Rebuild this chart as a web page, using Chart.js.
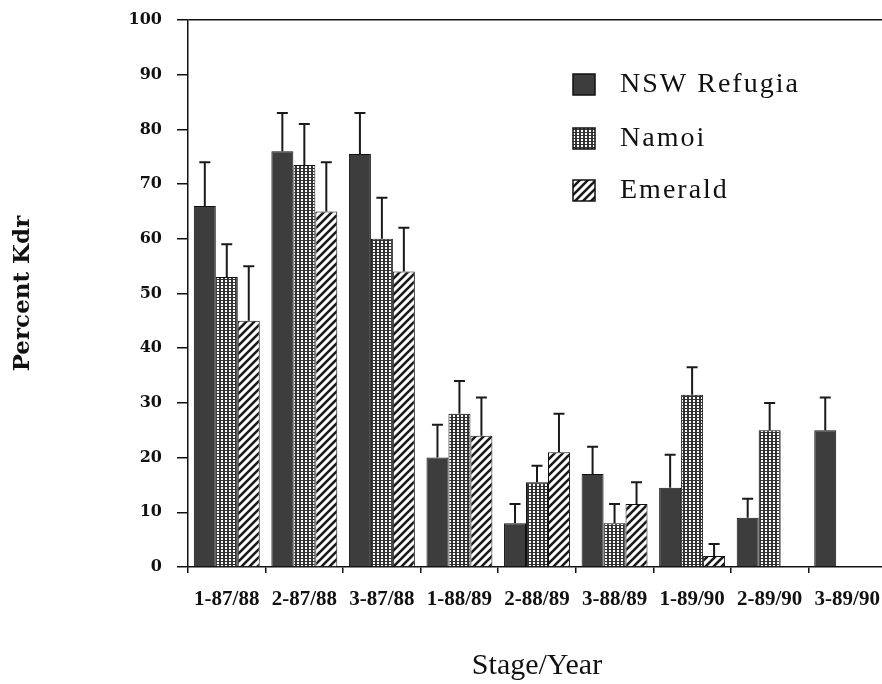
<!DOCTYPE html>
<html><head><meta charset="utf-8">
<script src="https://cdn.jsdelivr.net/npm/chart.js@4/dist/chart.umd.min.js"></script>
<style>
html,body{margin:0;padding:0;background:#fff;overflow:hidden;}
#wrap{width:882px;height:684px;overflow:hidden;position:relative;background:#fff;}
</style>
</head><body>
<div id="wrap"><canvas id="c" width="890" height="684" style="width:890px;height:684px"></canvas></div>
<script>
// ---- data ----
const categories = ['1-87/88','2-87/88','3-87/88','1-88/89','2-88/89','3-88/89','1-89/90','2-89/90','3-89/90'];
const seriesNames = ['NSW Refugia','Namoi','Emerald'];
const nswValues     = [66, 76, 75.5, 20, 8, 17, 14.5, 9, 25];
const nswErrors     = [8, 7, 7.5, 6, 3.5, 5, 6, 3.5, 6];
const namoiValues   = [53, 73.5, 60, 28, 15.5, 8, 31.5, 25, null];
const namoiErrors   = [6, 7.5, 7.5, 6, 3, 3.5, 5, 5, null];
const emeraldValues = [45, 65, 54, 24, 21, 11.5, 2, null, null];
const emeraldErrors = [10, 9, 8, 7, 7, 4, 2.2, null, null];
const yMin = 0, yMax = 100, yStep = 10;

// ---- fill patterns ----
const ctx = document.getElementById('c').getContext('2d');
const solidFill = '#3d3d3d';
const dotFill = ctx.createPattern((() => {
  const c = document.createElement('canvas'); c.width = 4; c.height = 3;
  const g = c.getContext('2d');
  g.fillStyle = '#333333'; g.fillRect(0, 0, 4, 3);
  g.fillStyle = '#ffffff'; g.fillRect(1, 1, 2, 2);
  return c;
})(), 'repeat');
const hatchFill = ctx.createPattern((() => {
  const c = document.createElement('canvas'); c.width = 8; c.height = 8;
  const g = c.getContext('2d');
  g.fillStyle = '#ffffff'; g.fillRect(0, 0, 8, 8);
  g.strokeStyle = '#1a1a1a'; g.lineWidth = 2.6;
  g.beginPath();
  g.moveTo(-2, 10); g.lineTo(10, -2);
  g.moveTo(-6, 6); g.lineTo(6, -6);
  g.moveTo(2, 14); g.lineTo(14, 2);
  g.stroke();
  return c;
})(), 'repeat');

const errorSets = [nswErrors, namoiErrors, emeraldErrors];

const errorBarPlugin = {
  id: 'errorBars',
  afterDatasetsDraw(chart) {
    const c = chart.ctx;
    const yScale = chart.scales.y;
    c.save();
    c.strokeStyle = '#1a1a1a';
    c.lineWidth = 2;
    chart.data.datasets.forEach((ds, i) => {
      const meta = chart.getDatasetMeta(i);
      meta.data.forEach((bar, j) => {
        const v = ds.data[j];
        const e = errorSets[i][j];
        if (v == null || e == null) return;
        const x = bar.x;
        const yTop = yScale.getPixelForValue(v + e);
        const yBase = yScale.getPixelForValue(v);
        c.beginPath();
        c.moveTo(x, yBase);
        c.lineTo(x, yTop);
        c.moveTo(x - 5.5, yTop);
        c.lineTo(x + 5.5, yTop);
        c.stroke();
      });
    });
    c.restore();
  }
};

const legendPlugin = {
  id: 'customLegend',
  afterDraw(chart) {
    const c = chart.ctx;
    const a = chart.chartArea;
    const boxX = a.left + 385, textX = a.left + 432;
    const rows = [a.top + 64, a.top + 118, a.top + 170];
    c.save();
    c.font = '28px "Liberation Serif", serif';
    c.textBaseline = 'middle';
    c.textAlign = 'left';
    try { c.letterSpacing = '2px'; } catch (e) {}
    chart.data.datasets.forEach((ds, i) => {
      const cy = rows[i];
      c.fillStyle = ds.backgroundColor;
      c.fillRect(boxX, cy - 10, 22, 21);
      c.strokeStyle = '#111'; c.lineWidth = 1.5;
      c.strokeRect(boxX, cy - 10, 22, 21);
      c.fillStyle = '#111';
      c.fillText(ds.label, textX, cy + 1);
    });
    c.restore();
  }
};

new Chart(ctx, {
  type: 'bar',
  data: {
    labels: categories,
    datasets: [
      { label: seriesNames[0], data: nswValues, backgroundColor: solidFill },
      { label: seriesNames[1], data: namoiValues, backgroundColor: dotFill },
      { label: seriesNames[2], data: emeraldValues, backgroundColor: hatchFill }
    ]
  },
  options: {
    responsive: false,
    animation: false,
    devicePixelRatio: 1,
    layout: { padding: { top: 20, right: 4, left: 0, bottom: 0 } },
    datasets: { bar: { borderColor: '#111', borderWidth: 1, categoryPercentage: 0.85, barPercentage: 1 } },
    plugins: { legend: { display: false }, tooltip: { enabled: false } },
    scales: {
      x: {
        grid: { offset: true, color: 'transparent', tickColor: '#111', tickLength: 6, lineWidth: 1.5 },
        border: { color: '#111', width: 1.5 },
        ticks: { font: { family: '"Liberation Serif", serif', weight: 'bold', size: 21 }, color: '#111', padding: 14, maxRotation: 0, autoSkip: false },
        title: { display: true, text: 'Stage/Year', font: { family: '"Liberation Serif", serif', size: 30 }, color: '#111', padding: { top: 0, bottom: 0 } },
        afterFit(s) { s.height = 117; s.paddingLeft = 0; s.paddingRight = 0; }
      },
      y: {
        min: yMin, max: yMax,
        ticks: { stepSize: yStep, font: { family: '"DejaVu Serif", serif', weight: 'bold', size: 16 }, color: '#111', padding: 15 },
        grid: { color: c => (c.tick && c.tick.value === yMax) ? '#111' : 'transparent', tickColor: '#111', tickLength: 11, lineWidth: 1.5 },
        border: { color: '#111', width: 1.5 },
        title: { display: true, text: 'Percent Kdr', font: { family: '"DejaVu Serif", serif', weight: 'bold', size: 23 }, color: '#111', padding: { top: 9, bottom: 0 } },
        afterFit(s) { s.width = 188; s.paddingTop = 0; s.paddingBottom = 0; }
      }
    }
  },
  plugins: [errorBarPlugin, legendPlugin]
});
</script>
</body></html>
